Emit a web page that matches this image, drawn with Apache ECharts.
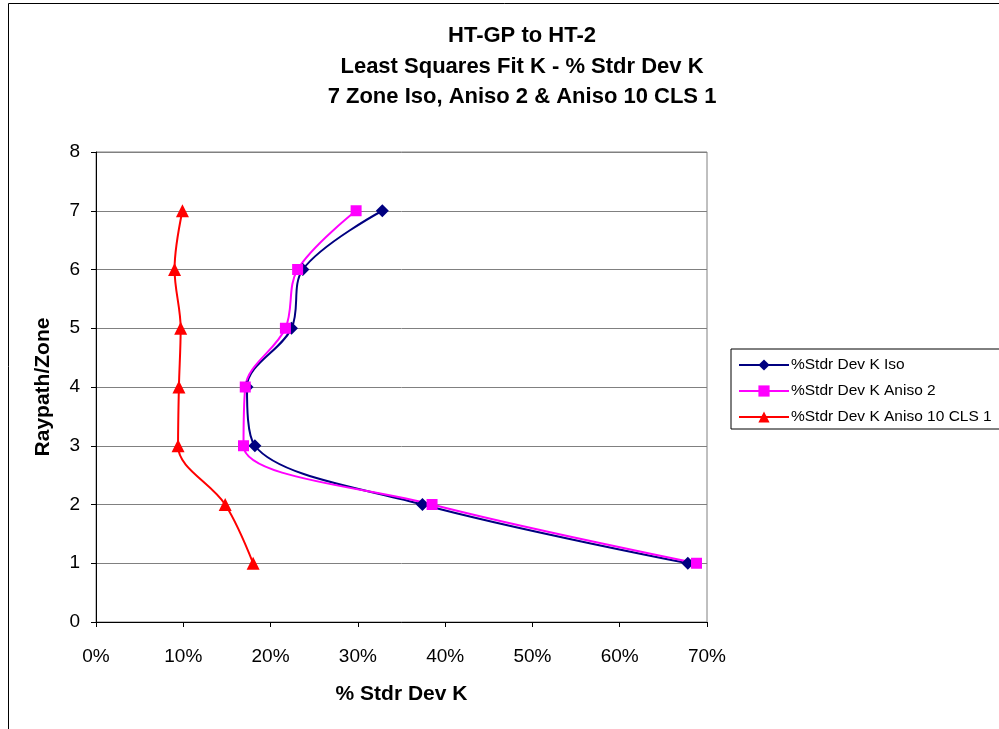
<!DOCTYPE html>
<html>
<head>
<meta charset="utf-8">
<script src="https://cdn.jsdelivr.net/npm/echarts@6/dist/echarts.min.js"></script>
<style>html,body{margin:0;padding:0;background:#fff;}#c{width:999px;height:729px;}</style>
</head>
<body>
<div id="c"></div>
<script>
// values (x in %, y = zone)
var zones = [1, 2, 3, 4, 5, 6, 7];
var isoVals = [67.8, 37.4, 18.2, 17.3, 22.4, 23.7, 32.8];
var aniso2Vals = [68.8, 38.5, 16.9, 17.1, 21.7, 23.1, 29.8];
var aniso10Vals = [18.0, 14.8, 9.4, 9.5, 9.7, 9.0, 9.9];
var seriesNames = ['%Stdr Dev K Iso', '%Stdr Dev K Aniso 2', '%Stdr Dev K Aniso 10 CLS 1'];
var titleLines = ['HT-GP to HT-2', 'Least Squares Fit K - % Stdr Dev K', '7 Zone Iso, Aniso 2 & Aniso 10 CLS 1'];

var FONT = 'Liberation Sans, Arial, sans-serif';
function pairs(v) { return v.map(function (x, i) { return [x, zones[i]]; }); }

var chart = echarts.init(document.getElementById('c'));
chart.setOption({
  animation: false,
  textStyle: { fontFamily: FONT },
  title: titleLines.map(function (t, i) {
    return { text: t, left: 517, textAlign: 'center', top: [20, 51, 81][i],
      textStyle: { fontFamily: FONT, fontSize: 22, fontWeight: 'bold', color: '#000' } };
  }),
  graphic: [{ type: 'rect', shape: { x: 8.5, y: 3.5, width: 1100, height: 800 },
    style: { fill: 'none', stroke: '#000', lineWidth: 1 }, silent: true }],
  grid: { left: 96, right: 292, top: 152, bottom: 107, show: true, borderColor: '#808080', borderWidth: 1, backgroundColor: 'transparent' },
  legend: {
    orient: 'vertical', left: 731, top: 349, itemWidth: 50, itemHeight: 14, itemGap: 10,
    padding: [8, 60, 4, 7], borderColor: '#000', borderWidth: 1,
    textStyle: { fontFamily: FONT, fontSize: 15.5, lineHeight: 14, color: '#000', padding: [0, 0, 0, -3] },
    data: seriesNames
  },
  xAxis: {
    type: 'value', min: 0, max: 70, interval: 10,
    name: '% Stdr Dev K', nameLocation: 'middle', nameGap: 62,
    nameTextStyle: { fontFamily: FONT, fontSize: 21, fontWeight: 'bold', color: '#000' },
    axisLine: { lineStyle: { color: '#000', width: 1 } },
    axisTick: { show: true, length: 5, lineStyle: { color: '#000' } },
    axisLabel: { formatter: '{value}%', fontFamily: FONT, fontSize: 19, color: '#000', margin: 25 },
    splitLine: { show: false }
  },
  yAxis: {
    type: 'value', min: 0, max: 8, interval: 1,
    name: 'Raypath/Zone', nameLocation: 'middle', nameGap: 42,
    nameTextStyle: { fontFamily: FONT, fontSize: 21, fontWeight: 'bold', color: '#000' },
    axisLine: { show: true, lineStyle: { color: '#000', width: 1 } },
    axisTick: { show: true, length: 5, lineStyle: { color: '#000' } },
    axisLabel: { fontFamily: FONT, fontSize: 19, color: '#000', margin: 16 },
    splitLine: { show: true, lineStyle: { color: '#808080', width: 1 } }
  },
  series: [
    { name: seriesNames[0], type: 'line', data: pairs(isoVals), smooth: 0.35,
      symbol: 'diamond', symbolSize: 13, color: '#000080',
      lineStyle: { color: '#000080', width: 2 }, itemStyle: { color: '#000080' } },
    { name: seriesNames[1], type: 'line', data: pairs(aniso2Vals), smooth: 0.35,
      symbol: 'rect', symbolSize: 11, color: '#ff00ff',
      lineStyle: { color: '#ff00ff', width: 2 }, itemStyle: { color: '#ff00ff' } },
    { name: seriesNames[2], type: 'line', data: pairs(aniso10Vals), smooth: 0.35,
      symbol: 'triangle', symbolSize: 13, color: '#ff0000',
      lineStyle: { color: '#ff0000', width: 2 }, itemStyle: { color: '#ff0000' } }
  ]
});
</script>
</body>
</html>
